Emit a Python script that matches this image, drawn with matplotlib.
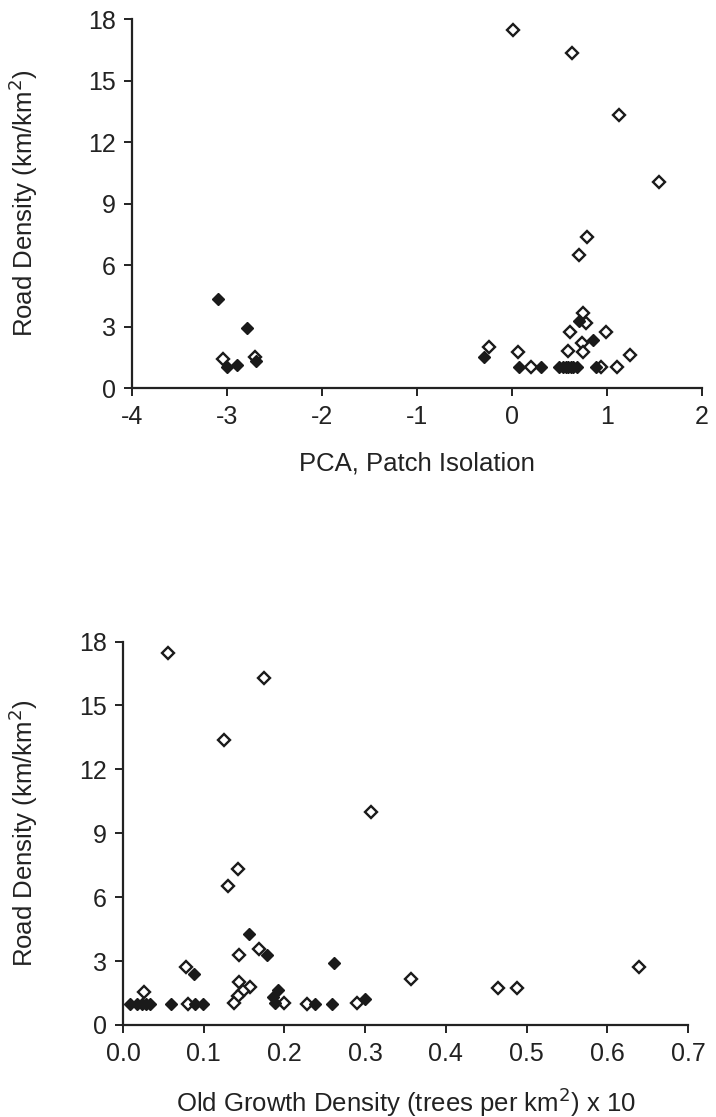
import matplotlib.pyplot as plt

plt.rcParams['font.family'] = ['Liberation Sans', 'DejaVu Sans']
plt.rcParams['axes.unicode_minus'] = False

# top panel: PCA patch isolation vs road density
pca_open_x = [-3.04, -2.71, 0.01, 0.63, 1.13, 1.55, 0.79, 0.70, 0.75, 0.78, 0.61,
              0.99, 0.74, 0.59, 0.75, -0.24, 0.06, 1.24, 0.20, 0.94, 1.11]
pca_open_y = [1.40, 1.50, 17.46, 16.36, 13.30, 10.06, 7.35, 6.49, 3.64, 3.15, 2.75,
              2.75, 2.21, 1.82, 1.77, 2.01, 1.77, 1.61, 1.04, 1.02, 1.02]
pca_fill_x = [-3.10, -2.79, -3.00, -2.89, -2.69, -0.30, 0.07, 0.31, 0.49, 0.54,
              0.57, 0.59, 0.62, 0.64, 0.68, 0.88, 0.70, 0.85]
pca_fill_y = [4.33, 2.91, 1.01, 1.12, 1.33, 1.50, 1.02, 1.02, 1.02, 1.02,
              1.02, 1.02, 1.02, 1.02, 1.02, 1.02, 3.28, 2.34]

# bottom panel: old growth density vs road density
og_open_x = [0.056, 0.175, 0.125, 0.307, 0.142, 0.130, 0.144, 0.169, 0.078, 0.026,
             0.144, 0.157, 0.149, 0.142, 0.137, 0.080, 0.200, 0.228, 0.290, 0.357,
             0.464, 0.488, 0.639]
og_open_y = [17.45, 16.30, 13.38, 10.01, 7.33, 6.53, 3.29, 3.55, 2.74, 1.56,
             2.00, 1.80, 1.61, 1.36, 1.02, 1.00, 1.02, 1.00, 1.02, 2.17,
             1.72, 1.72, 2.74]
og_fill_x = [0.009, 0.017, 0.023, 0.029, 0.033, 0.060, 0.089, 0.0995, 0.088, 0.156,
             0.178, 0.192, 0.186, 0.188, 0.238, 0.259, 0.261, 0.300]
og_fill_y = [1.00, 1.00, 1.00, 1.00, 1.00, 1.00, 1.00, 1.00, 2.38, 4.27,
             3.29, 1.64, 1.33, 1.02, 1.00, 1.00, 2.92, 1.20]

y_ticks = [0, 3, 6, 9, 12, 15, 18]
ylabel = 'Road Density (km/km$^2$)'
ink = '#222222'

fig = plt.figure(figsize=(7.16, 11.17), dpi=100)
ax1 = fig.add_axes([0.1844, 0.6526, 0.7961, 0.3303])
ax2 = fig.add_axes([0.1718, 0.0824, 0.7891, 0.3432])


def style(ax):
    for s in ['top', 'right']:
        ax.spines[s].set_visible(False)
    for s in ['left', 'bottom']:
        ax.spines[s].set_linewidth(1.6)
        ax.spines[s].set_color(ink)
    ax.tick_params(direction='out', length=5.5, width=1.4, color=ink,
                   labelsize=18, labelcolor=ink)
    ax.tick_params(axis='x', pad=7)
    ax.tick_params(axis='y', pad=6)


def scatter(ax, ox, oy, fx, fy):
    ax.plot(ox, oy, 'D', ms=5.8, mfc='white', mec='#1a1a1a', mew=1.7,
            linestyle='none', clip_on=False, zorder=3)
    ax.plot(fx, fy, 'D', ms=6.2, mfc='#1a1a1a', mec='#1a1a1a', mew=1.0,
            linestyle='none', clip_on=False, zorder=4)


scatter(ax1, pca_open_x, pca_open_y, pca_fill_x, pca_fill_y)
ax1.set_xlim(-4, 2)
ax1.set_ylim(0, 18)
ax1.set_xticks([-4, -3, -2, -1, 0, 1, 2])
ax1.set_yticks(y_ticks)
style(ax1)
ax1.set_xlabel('PCA, Patch Isolation', fontsize=18.5, color=ink)
ax1.set_ylabel(ylabel, fontsize=18.5, color=ink)
ax1.xaxis.set_label_coords(0.5, -0.173)
ax1.yaxis.set_label_coords(-0.161, 0.5)

scatter(ax2, og_open_x, og_open_y, og_fill_x, og_fill_y)
ax2.set_xlim(0, 0.7)
ax2.set_ylim(0, 18)
ax2.set_xticks([0.0, 0.1, 0.2, 0.3, 0.4, 0.5, 0.6, 0.7])
ax2.set_xticklabels(['0.0', '0.1', '0.2', '0.3', '0.4', '0.5', '0.6', '0.7'])
ax2.set_yticks(y_ticks)
style(ax2)
ax2.set_xlabel('Old Growth Density (trees per km$^2$) x 10', fontsize=18.5, color=ink)
ax2.set_ylabel(ylabel, fontsize=18.5, color=ink)
ax2.xaxis.set_label_coords(0.5, -0.158)
ax2.yaxis.set_label_coords(-0.147, 0.5)

fig.savefig('out.png', dpi=100)
